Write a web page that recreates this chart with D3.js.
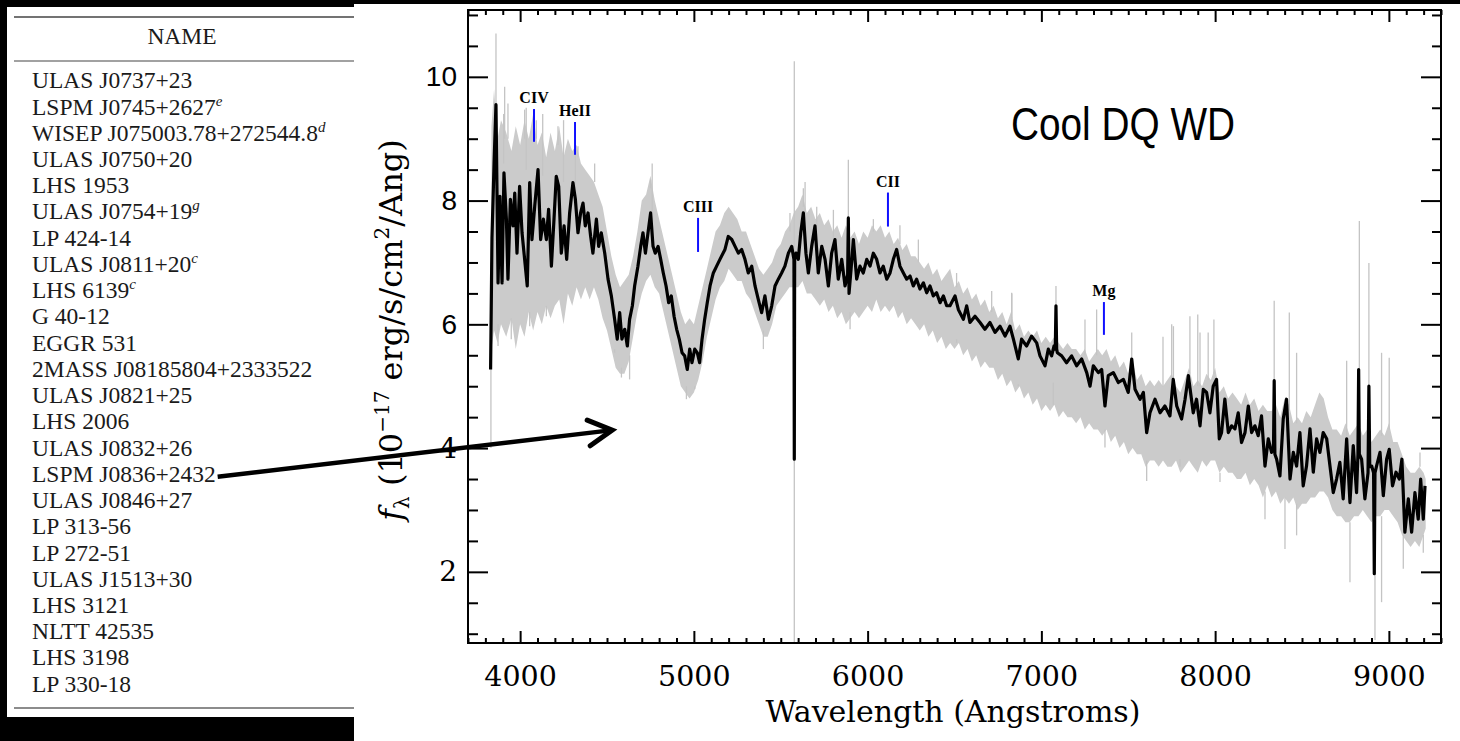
<!DOCTYPE html>
<html>
<head>
<meta charset="utf-8">
<script src="https://cdn.jsdelivr.net/npm/d3@7"></script>
<style>
  body { margin: 0; background: #000; }
</style>
</head>
<body>
<div id="figure"></div>
<script>
// ---- table on the left ----
const tableNames = ["ULAS J0737+23", "LSPM J0745+2627", "WISEP J075003.78+272544.8", "ULAS J0750+20",
  "LHS 1953", "ULAS J0754+19", "LP 424-14", "ULAS J0811+20", "LHS 6139", "G 40-12", "EGGR 531",
  "2MASS J08185804+2333522", "ULAS J0821+25", "LHS 2006", "ULAS J0832+26", "LSPM J0836+2432",
  "ULAS J0846+27", "LP 313-56", "LP 272-51", "ULAS J1513+30", "LHS 3121", "NLTT 42535", "LHS 3198", "LP 330-18"];
const tableNotes = ["", "e", "d", "", "", "g", "", "c", "c", "", "", "", "", "", "", "", "", "", "", "", "", "", "", ""];
const arrowFrom = "LSPM J0836+2432";

// ---- spectrum (wavelength in Angstrom, flux in 1e-17 erg/s/cm2/Ang) ----
const fluxSmooth = [
  [3830, 5.27], [3838, 7.4], [3850, 8.6], [3861, 9.55], [3873, 6.67], [3884, 8.07], [3896, 6.67], [3907, 8.45],
  [3921, 7.7], [3930, 6.73], [3944, 8.02], [3959, 7.59], [3969, 8.12], [3982, 7.15], [3997, 8.23], [4011, 7.48],
  [4026, 7.05], [4041, 6.62], [4055, 8.29], [4068, 7.37], [4084, 7.91], [4103, 8.5], [4118, 7.37], [4134, 7.7],
  [4151, 7.37], [4164, 7.86], [4180, 6.94], [4195, 7.7], [4208, 8.39], [4222, 8.23], [4237, 7.15], [4253, 7.59],
  [4268, 7.05], [4285, 7.8], [4304, 8.29], [4318, 8.02], [4333, 7.48], [4348, 7.8], [4362, 7.96], [4375, 7.59],
  [4391, 7.8], [4406, 7.42], [4419, 7.15], [4439, 7.7], [4452, 7.26], [4467, 7.48], [4487, 7.15], [4506, 6.73],
  [4525, 6.46], [4544, 6.08], [4559, 5.76], [4573, 6.19], [4586, 5.76], [4602, 5.92], [4617, 5.65], [4630, 6.08],
  [4646, 6.3], [4659, 6.62], [4678, 6.94], [4694, 7.26], [4707, 7.48], [4721, 7.15], [4736, 7.48], [4751, 7.8],
  [4765, 7.26], [4778, 7.15], [4794, 7.26], [4809, 7.05], [4824, 6.83], [4840, 6.62], [4855, 6.35], [4870, 6.46],
  [4886, 6.13], [4901, 5.92], [4916, 5.76], [4932, 5.54], [4947, 5.49], [4962, 5.27], [4976, 5.6], [4989, 5.38],
  [5005, 5.6], [5020, 5.54], [5033, 5.38], [5047, 5.76], [5062, 6.08], [5077, 6.35], [5093, 6.62],
  [5112, 6.83], [5131, 6.94], [5150, 7.05], [5179, 7.21], [5198, 7.42], [5218, 7.37], [5237, 7.26], [5256, 7.15],
  [5275, 7.21], [5294, 7.05], [5313, 6.83], [5333, 6.94], [5352, 6.62], [5371, 6.4], [5390, 6.19], [5409, 6.46],
  [5429, 6.08], [5448, 6.3], [5467, 6.62], [5486, 6.73], [5505, 6.83], [5524, 6.94], [5544, 7.15], [5563, 7.26],
  [5576, 7.05], [5578, 3.82], [5580, 7.05], [5588, 7.15], [5601, 7.05], [5615, 7.48], [5630, 7.8], [5645, 7.15],
  [5659, 6.83], [5678, 7.26], [5697, 7.59], [5716, 6.83], [5736, 7.26], [5755, 7.05], [5774, 6.62], [5793, 7.15],
  [5812, 7.37], [5831, 6.73], [5851, 7.05], [5870, 6.62], [5885, 6.8], [5889, 7.72], [5893, 6.5], [5905, 6.9],
  [5918, 7.37], [5937, 6.73], [5956, 6.94], [5975, 6.83], [5995, 7.05], [6014, 6.94], [6033, 7.15], [6052, 7.05],
  [6071, 6.83], [6090, 6.94], [6110, 6.73], [6129, 6.83], [6148, 7.05], [6167, 7.21], [6186, 6.94], [6206, 6.83],
  [6225, 6.73], [6244, 6.78], [6263, 6.62], [6282, 6.73], [6301, 6.57], [6321, 6.67], [6340, 6.51], [6359, 6.62],
  [6378, 6.46], [6397, 6.51], [6417, 6.35], [6436, 6.46], [6455, 6.3],
  [6474, 6.3], [6503, 6.46], [6522, 6.24], [6551, 6.08], [6570, 6.3], [6589, 6.03], [6618, 6.13], [6647, 6.03],
  [6675, 5.92], [6704, 6.03], [6733, 5.87], [6762, 5.97], [6791, 5.81], [6819, 5.97], [6839, 5.76], [6867, 5.44],
  [6886, 5.76], [6915, 5.65], [6944, 5.81], [6973, 5.7], [6992, 5.49], [7021, 5.33], [7040, 5.6], [7059, 5.49],
  [7073, 5.65], [7080, 5.6], [7084, 6.3], [7088, 5.6], [7092, 5.54], [7117, 5.49], [7145, 5.38], [7174, 5.49],
  [7203, 5.33], [7232, 5.44], [7261, 5.22], [7280, 5.0], [7299, 5.33], [7328, 5.22], [7347, 5.27], [7366, 4.68],
  [7385, 5.17], [7414, 5.22], [7443, 5.06], [7472, 5.11], [7500, 4.9], [7520, 5.44], [7539, 4.95], [7568, 4.79],
  [7587, 4.9], [7606, 4.25], [7625, 4.57], [7654, 4.79], [7683, 4.57], [7711, 4.68], [7740, 4.52], [7759, 5.11],
  [7779, 4.68], [7807, 4.47], [7827, 4.79], [7846, 5.17],
  [7874, 4.57], [7893, 4.79], [7913, 4.36], [7932, 4.95], [7951, 4.9], [7970, 4.57], [7989, 5.0], [8008, 5.11],
  [8024, 4.15], [8037, 4.25], [8056, 4.79], [8076, 4.25], [8095, 4.36], [8114, 4.31], [8133, 4.57], [8152, 4.09],
  [8172, 4.25], [8191, 4.68], [8210, 4.25], [8229, 4.36], [8248, 4.2], [8267, 4.52], [8287, 3.71], [8306, 4.15],
  [8325, 3.93], [8336, 4.0], [8340, 5.09], [8344, 3.9], [8354, 3.82], [8373, 3.55], [8392, 4.47], [8411, 4.79],
  [8431, 3.5], [8450, 3.93], [8469, 3.71], [8488, 4.25], [8507, 3.39], [8526, 3.71], [8546, 4.31], [8565, 3.61],
  [8584, 4.15], [8603, 3.93], [8622, 4.25], [8642, 4.15], [8661, 3.71], [8680, 3.28], [8699, 3.5], [8718, 3.77],
  [8737, 3.18], [8757, 4.15], [8776, 3.12], [8795, 4.04], [8814, 3.28], [8822, 3.9], [8826, 5.27], [8830, 3.9],
  [8843, 3.82], [8862, 3.18], [8880, 3.6], [8885, 5.0], [8890, 3.7], [8901, 3.71], [8912, 3.6], [8916, 1.97],
  [8920, 3.6], [8929, 3.71], [8949, 3.93], [8968, 3.23], [8987, 3.82], [9002, 3.98], [9021, 3.39], [9041, 3.61],
  [9060, 3.5], [9075, 3.82], [9092, 2.64], [9112, 3.18], [9131, 2.64], [9150, 3.28], [9169, 2.85], [9183, 3.5],
  [9198, 2.85], [9208, 3.39]
];

// raw spectrum envelope: [wavelength, low, high]
const fluxRawBand = [
  [3835, 5.6, 9.2], [3850, 5.9, 9.8], [3870, 5.7, 9.0], [3890, 6.0, 9.3], [3920, 5.8, 9.1], [3950, 6.1, 8.8],
  [3975, 5.6, 9.2], [4000, 6.0, 8.9], [4025, 5.8, 9.3], [4050, 6.2, 9.0], [4075, 5.9, 9.4], [4100, 6.2, 8.9],
  [4125, 6.0, 9.1], [4150, 6.3, 8.7], [4175, 6.1, 9.1], [4200, 6.3, 8.8], [4225, 6.4, 9.2], [4250, 6.0, 8.7],
  [4275, 6.5, 9.0], [4300, 6.3, 8.8], [4325, 6.6, 8.9], [4350, 6.4, 8.6], [4375, 6.6, 8.5], [4400, 6.4, 8.4],
  [4425, 6.6, 8.3], [4450, 6.4, 8.1], [4475, 6.1, 7.9], [4500, 5.9, 7.5], [4525, 5.6, 7.1], [4550, 5.3, 6.8],
  [4575, 5.2, 6.6], [4600, 5.2, 6.7], [4625, 5.4, 6.8], [4650, 5.8, 7.1], [4675, 6.2, 7.5], [4700, 6.5, 8.0],
  [4725, 6.7, 8.1], [4750, 6.8, 8.4], [4775, 6.6, 8.0], [4800, 6.5, 7.7], [4825, 6.2, 7.4], [4850, 5.9, 7.1],
  [4875, 5.6, 6.8], [4900, 5.3, 6.5], [4925, 5.0, 6.2], [4950, 4.9, 6.0], [4975, 4.8, 6.1], [5000, 4.9, 6.0],
  [5025, 5.1, 6.3], [5050, 5.4, 6.6], [5075, 5.8, 6.9], [5100, 6.1, 7.2], [5125, 6.4, 7.5], [5150, 6.6, 7.6],
  [5175, 6.7, 7.8], [5200, 6.9, 7.9], [5225, 6.8, 7.8], [5250, 6.7, 7.7], [5275, 6.7, 7.5], [5300, 6.5, 7.5],
  [5325, 6.4, 7.3], [5350, 6.2, 7.1], [5375, 6.0, 6.9], [5400, 5.8, 6.8], [5425, 5.8, 6.9], [5450, 6.0, 7.0],
  [5475, 6.3, 7.2], [5500, 6.4, 7.3], [5525, 6.5, 7.5], [5550, 6.6, 7.6], [5575, 6.6, 7.8], [5600, 6.6, 7.9],
  [5625, 6.7, 8.1], [5650, 6.5, 7.8], [5675, 6.5, 7.9], [5700, 6.4, 7.7], [5725, 6.3, 7.8], [5750, 6.4, 7.6],
  [5775, 6.2, 7.7], [5800, 6.3, 7.5], [5825, 6.1, 7.6], [5850, 6.2, 7.4], [5875, 6.0, 7.6], [5900, 6.1, 7.4],
  [5925, 6.2, 7.5], [5950, 6.1, 7.3], [5975, 6.2, 7.5], [6000, 6.3, 7.4], [6025, 6.2, 7.6], [6050, 6.4, 7.5],
  [6075, 6.2, 7.6], [6100, 6.3, 7.4], [6125, 6.2, 7.5], [6150, 6.3, 7.3], [6175, 6.1, 7.4], [6200, 6.2, 7.2],
  [6225, 6.0, 7.3], [6250, 6.1, 7.1], [6275, 6.0, 7.1], [6300, 5.9, 7.0], [6325, 6.0, 6.9], [6350, 5.8, 7.0],
  [6375, 5.9, 6.8], [6400, 5.7, 6.9], [6425, 5.8, 6.7], [6450, 5.6, 6.8], [6475, 5.7, 6.9], [6500, 5.6, 6.6],
  [6525, 5.7, 6.7], [6550, 5.5, 6.5], [6575, 5.6, 6.6], [6600, 5.4, 6.4], [6625, 5.5, 6.5], [6650, 5.3, 6.3],
  [6675, 5.4, 6.4], [6700, 5.3, 6.2], [6725, 5.3, 6.3], [6750, 5.1, 6.1], [6775, 5.2, 6.2], [6800, 5.0, 6.0],
  [6825, 5.1, 6.2], [6850, 4.9, 5.9], [6875, 5.0, 6.0], [6900, 4.8, 5.8], [6925, 4.9, 5.9], [6950, 4.7, 5.8],
  [6975, 4.8, 5.9], [7000, 4.6, 5.7], [7025, 4.7, 5.8], [7050, 4.6, 5.7], [7075, 4.7, 5.8], [7100, 4.5, 5.7],
  [7125, 4.6, 5.6], [7150, 4.5, 5.7], [7175, 4.5, 5.6], [7200, 4.4, 5.6], [7225, 4.5, 5.5], [7250, 4.3, 5.6],
  [7275, 4.4, 5.4], [7300, 4.3, 5.5], [7325, 4.3, 5.6], [7350, 4.2, 5.5], [7375, 4.3, 5.6], [7400, 4.1, 5.4],
  [7425, 4.2, 5.5], [7450, 4.0, 5.3], [7475, 4.1, 5.4], [7500, 3.9, 5.2], [7525, 4.0, 5.4], [7550, 3.9, 5.1],
  [7575, 3.9, 5.2], [7600, 3.7, 5.0], [7625, 3.8, 5.1], [7650, 3.8, 5.0], [7675, 3.7, 5.1], [7700, 3.8, 5.0],
  [7725, 3.7, 5.1], [7750, 3.7, 5.2], [7775, 3.8, 5.0], [7800, 3.6, 4.9], [7825, 3.7, 5.1], [7850, 3.8, 5.3],
  [7875, 3.7, 5.0], [7900, 3.6, 5.1], [7925, 3.8, 5.0], [7950, 3.7, 5.2], [7975, 3.8, 5.1], [8000, 3.8, 5.3],
  [8025, 3.6, 4.9], [8050, 3.7, 5.0], [8075, 3.6, 4.8], [8100, 3.6, 4.9], [8125, 3.5, 4.8], [8150, 3.5, 4.7],
  [8175, 3.6, 4.9], [8200, 3.4, 4.7], [8225, 3.5, 4.8], [8250, 3.4, 4.6], [8275, 3.2, 4.7], [8300, 3.4, 4.6],
  [8325, 3.2, 4.6], [8350, 3.3, 4.7], [8375, 3.1, 4.5], [8400, 3.2, 4.8], [8425, 3.1, 4.7], [8450, 3.2, 4.4],
  [8475, 3.0, 4.5], [8500, 3.1, 4.4], [8525, 3.1, 4.6], [8550, 3.2, 4.5], [8575, 3.2, 4.7], [8600, 3.3, 4.9],
  [8625, 3.3, 4.8], [8650, 3.2, 4.5], [8675, 3.0, 4.3], [8700, 2.9, 4.3], [8725, 2.9, 4.2], [8750, 2.8, 4.4],
  [8775, 2.8, 4.2], [8800, 2.9, 4.3], [8825, 2.9, 4.4], [8850, 3.0, 4.2], [8875, 2.9, 4.3], [8900, 2.8, 4.1],
  [8925, 2.9, 4.2], [8950, 2.9, 4.3], [8975, 3.0, 4.2], [9000, 3.0, 4.4], [9025, 2.9, 4.1], [9050, 2.8, 4.1],
  [9075, 2.6, 3.9], [9100, 2.5, 3.7], [9125, 2.4, 3.6], [9150, 2.5, 3.6], [9175, 2.4, 3.7], [9200, 2.6, 3.6],
  [9212, 2.7, 3.5]
];

// single raw pixels sticking out of the band: [wavelength, band edge, tip]
const fluxRawSpikes = [
  [3832, 7.0, 4.0], [3861, 8.5, 10.7], [3873, 6.0, 5.65], [3905, 8.6, 9.4], [3911, 9.0, 9.84], [3930, 9.0, 9.57],
  [3949, 6.1, 5.76], [4026, 9.0, 9.47], [4035, 8.5, 9.5], [4055, 6.2, 5.97], [4093, 9.0, 9.3], [4130, 8.4, 9.4],
  [4151, 6.3, 6.13], [4218, 8.9, 9.2], [4250, 8.3, 9.3], [4318, 8.2, 9.2], [4333, 8.7, 8.88], [4429, 8.3, 8.6],
  [4544, 5.6, 5.54], [4583, 5.3, 5.14], [4630, 5.5, 5.11], [4751, 8.2, 8.34], [4760, 7.8, 8.6], [4957, 5.0, 4.79],
  [5005, 5.0, 4.95], [5400, 5.9, 5.6], [5553, 7.5, 7.8], [5578, 0.85, 10.25], [5630, 7.9, 8.2], [5640, 7.7, 8.3],
  [5707, 7.6, 7.9], [5803, 7.4, 7.85], [5889, 7.5, 8.66], [5899, 6.2, 5.92], [6033, 7.5, 7.7], [6186, 7.3, 7.6],
  [6292, 7.0, 7.37], [6512, 6.6, 6.83], [6512, 5.7, 5.76], [6714, 6.2, 6.54], [6829, 6.1, 6.51], [6830, 5.8, 6.5],
  [6867, 5.0, 5.03], [7069, 4.7, 5.06], [7084, 5.7, 6.62], [7251, 5.5, 6.08], [7318, 5.5, 6.24], [7366, 4.3, 4.01],
  [7520, 5.3, 5.87], [7606, 3.8, 3.47], [7700, 5.0, 5.8], [7750, 5.1, 6.0], [7760, 5.0, 5.97], [7798, 3.7, 3.82],
  [7855, 5.2, 6.13], [7900, 5.0, 6.16], [7913, 5.0, 5.87], [7960, 5.1, 5.87], [7993, 5.2, 6.08], [8028, 3.6, 3.45],
  [8287, 3.3, 2.85], [8340, 4.7, 6.38], [8402, 3.2, 2.37], [8427, 4.6, 6.19], [8469, 4.4, 5.54], [8469, 3.1, 2.59],
  [8757, 4.2, 5.41], [8776, 2.8, 1.83], [8830, 4.4, 7.67], [8885, 4.3, 6.99], [8920, 2.8, 0.9], [8958, 4.2, 5.54],
  [8958, 2.9, 1.51], [9002, 4.3, 5.46], [9083, 2.6, 2.05], [9179, 3.7, 3.93], [9198, 2.6, 2.31]
];

// line identifications
const lineNames = ["CIV", "HeII", "CIII", "CII", "Mg"];
const lineWaves = [4080, 4316, 5024, 6117, 7360];
const lineTop = [9.48, 9.27, 7.72, 8.13, 6.36];
const lineBottom = [8.95, 8.74, 7.17, 7.58, 5.83];

const xTicks = [4000, 5000, 6000, 7000, 8000, 9000];
const yTicks = [2, 4, 6, 8, 10];
const yTicksSerif = [2, 4];   // these two labels are set in the plot's own serif font
const arrowTip = [4530, 4.29];

// ---- page ----
const W = 1460, H = 741;
const svg = d3.select("#figure")
  .append("svg")
    .attr("width", W)
    .attr("height", H)
    .style("display", "block");

svg.append("rect").attr("width", W).attr("height", H).attr("fill", "#000");
// left paper and right paper
svg.append("rect").attr("x", 7).attr("y", 7).attr("width", 347).attr("height", 710).attr("fill", "#fff");
svg.append("rect").attr("x", 354).attr("y", 4).attr("width", W - 354).attr("height", H - 4).attr("fill", "#fff");

// ---- table ----
const table = svg.append("g")
  .style("font-family", "'Liberation Serif', 'Times New Roman', serif")
  .style("font-size", "23.5px")
  .attr("fill", "#1a1a1a");

table.append("line").attr("x1", 14).attr("x2", 354).attr("y1", 17).attr("y2", 17)
  .attr("stroke", "#444").attr("stroke-width", 1.6);
table.append("line").attr("x1", 14).attr("x2", 354).attr("y1", 61).attr("y2", 61)
  .attr("stroke", "#444").attr("stroke-width", 1.2);
table.append("line").attr("x1", 14).attr("x2", 354).attr("y1", 708).attr("y2", 708)
  .attr("stroke", "#666").attr("stroke-width", 1.6);

table.append("text")
  .attr("x", 182)
  .attr("y", 44)
  .attr("text-anchor", "middle")
  .text("NAME");

const rowY = d3.scalePoint()
  .domain(tableNames)
  .range([88.3, 691.7]);

const rows = table.selectAll("text.row")
  .data(tableNames)
  .join("text")
    .attr("class", "row")
    .attr("x", 32)
    .attr("y", d => rowY(d));
rows.append("tspan").text(d => d);
rows.append("tspan")
  .attr("dy", -9)
  .style("font-size", "15px")
  .style("font-style", "italic")
  .text((d, i) => tableNotes[i]);

// ---- plot ----
const plot = {left: 468, top: 10, right: 1441, bottom: 643};

const x = d3.scaleLinear()
  .domain([3700, 9300])
  .range([plot.left, plot.right]);
const y = d3.scaleLinear()
  .domain([0.85, 11.08])
  .range([plot.bottom, plot.top]);

const chart = svg.append("g");

// raw spectrum band
chart.append("path")
  .datum(fluxRawBand)
  .attr("fill", "#cbcbcb")
  .attr("d", d3.area()
    .x(d => x(d[0]))
    .y0(d => y(d[1]))
    .y1(d => y(d[2])));

chart.selectAll("line.spike")
  .data(fluxRawSpikes)
  .join("line")
    .attr("class", "spike")
    .attr("x1", d => x(d[0]))
    .attr("x2", d => x(d[0]))
    .attr("y1", d => y(d[1]))
    .attr("y2", d => y(d[2]))
    .attr("stroke", "#c4c4c4")
    .attr("stroke-width", 1.3);

// smoothed spectrum
chart.append("path")
  .datum(fluxSmooth)
  .attr("fill", "none")
  .attr("stroke", "#000")
  .attr("stroke-width", 3.2)
  .attr("stroke-linejoin", "round")
  .attr("d", d3.line()
    .x(d => x(d[0]))
    .y(d => y(d[1])));

// line identifications
chart.selectAll("line.ident")
  .data(lineNames)
  .join("line")
    .attr("class", "ident")
    .attr("x1", (d, i) => x(lineWaves[i]))
    .attr("x2", (d, i) => x(lineWaves[i]))
    .attr("y1", (d, i) => y(lineTop[i]))
    .attr("y2", (d, i) => y(lineBottom[i]))
    .attr("stroke", "#1010ff")
    .attr("stroke-width", 2);
chart.selectAll("text.ident")
  .data(lineNames)
  .join("text")
    .attr("class", "ident")
    .attr("x", (d, i) => x(lineWaves[i]))
    .attr("y", (d, i) => y(lineTop[i]) - 6)
    .attr("text-anchor", "middle")
    .style("font-family", "'Liberation Serif', serif")
    .style("font-weight", "bold")
    .style("font-size", "16px")
    .text(d => d);

// frame
chart.append("rect")
  .attr("x", plot.left)
  .attr("y", plot.top)
  .attr("width", plot.right - plot.left)
  .attr("height", plot.bottom - plot.top)
  .attr("fill", "none")
  .attr("stroke", "#000")
  .attr("stroke-width", 2);

// axes: major + minor ticks on all four sides, pointing inward
const xMinor = d3.range(3700, 9301, 100).filter(v => v % 1000 !== 0);
const yMinor = d3.range(1, 11.01, 0.5).filter(v => v % 2 !== 0);

function styleAxis(g) {
  g.select(".domain").remove();
  g.selectAll(".tick line").attr("stroke", "#000").attr("stroke-width", 2);
}

chart.append("g")
  .attr("transform", `translate(0,${plot.bottom})`)
  .call(d3.axisBottom(x).tickValues(xTicks).tickSize(-12).tickPadding(23).tickFormat(d3.format("d")))
  .call(styleAxis)
  .call(g => g.selectAll("text")
    .attr("fill", "#000")
    .style("font-family", "'DejaVu Serif', serif")
    .style("font-size", "28.5px"));
chart.append("g")
  .attr("transform", `translate(0,${plot.bottom})`)
  .call(d3.axisBottom(x).tickValues(xMinor).tickSize(-5).tickFormat(""))
  .call(styleAxis);
chart.append("g")
  .attr("transform", `translate(0,${plot.top})`)
  .call(d3.axisTop(x).tickValues(xTicks).tickSize(-12).tickFormat(""))
  .call(styleAxis);
chart.append("g")
  .attr("transform", `translate(0,${plot.top})`)
  .call(d3.axisTop(x).tickValues(xMinor).tickSize(-5).tickFormat(""))
  .call(styleAxis);

chart.append("g")
  .attr("transform", `translate(${plot.left},0)`)
  .call(d3.axisLeft(y).tickValues(yTicks).tickSize(-20).tickPadding(11))
  .call(styleAxis)
  .call(g => g.selectAll("text")
    .attr("fill", "#000")
    .style("font-family", d => yTicksSerif.includes(d) ? "'DejaVu Serif', serif" : "'Liberation Sans', Arial, sans-serif")
    .style("font-size", "28px"));
chart.append("g")
  .attr("transform", `translate(${plot.left},0)`)
  .call(d3.axisLeft(y).tickValues(yMinor).tickSize(-10).tickFormat(""))
  .call(styleAxis);
chart.append("g")
  .attr("transform", `translate(${plot.right},0)`)
  .call(d3.axisRight(y).tickValues(yTicks).tickSize(-20).tickFormat(""))
  .call(styleAxis);
chart.append("g")
  .attr("transform", `translate(${plot.right},0)`)
  .call(d3.axisRight(y).tickValues(yMinor).tickSize(-9).tickFormat(""))
  .call(styleAxis);

// Add X-axis label
svg.append("text")
  .attr("x", 953)
  .attr("y", 722)
  .attr("text-anchor", "middle")
  .style("font-family", "'DejaVu Serif', serif")
  .style("font-size", "30px")
  .text("Wavelength (Angstroms)");

// Add Y-axis label
const yLabel = svg.append("text")
  .attr("transform", "translate(402,330) rotate(-90)")
  .attr("text-anchor", "middle")
  .style("font-family", "'DejaVu Serif', serif")
  .style("font-size", "32px");
yLabel.append("tspan").style("font-style", "italic").text("f");
yLabel.append("tspan").attr("dy", 7).style("font-size", "20px").text("λ");
yLabel.append("tspan").attr("dy", -7).text(" (10");
yLabel.append("tspan").attr("dy", -13).style("font-size", "20px").text("−17");
yLabel.append("tspan").attr("dy", 13).text(" erg/s/cm");
yLabel.append("tspan").attr("dy", -13).style("font-size", "20px").text("2");
yLabel.append("tspan").attr("dy", 13).text("/Ang)");

// title inside the plot
svg.append("text")
  .attr("x", 1011)
  .attr("y", 140)
  .attr("textLength", 224)
  .attr("lengthAdjust", "spacingAndGlyphs")
  .style("font-family", "'Liberation Sans', Arial, sans-serif")
  .style("font-size", "46px")
  .text("Cool DQ WD");

// arrow from the table row into the plot
const fromRow = rows.filter(d => d === arrowFrom).node();
const x0 = 32 + fromRow.getComputedTextLength() + 2,
      y0 = rowY(arrowFrom) - 5,
      x1 = x(arrowTip[0]),
      y1 = y(arrowTip[1]);
const ang = Math.atan2(y1 - y0, x1 - x0),
      headLen = 27, headAng = 0.5;
svg.append("line")
  .attr("x1", x0).attr("y1", y0)
  .attr("x2", x1 - 2 * Math.cos(ang)).attr("y2", y1 - 2 * Math.sin(ang))
  .attr("stroke", "#000")
  .attr("stroke-width", 4.5);
svg.append("path")
  .attr("d", d3.line()([
    [x1 - headLen * Math.cos(ang - headAng), y1 - headLen * Math.sin(ang - headAng)],
    [x1, y1],
    [x1 - headLen * Math.cos(ang + headAng), y1 - headLen * Math.sin(ang + headAng)]
  ]))
  .attr("fill", "none")
  .attr("stroke", "#000")
  .attr("stroke-width", 5)
  .attr("stroke-linecap", "round");
</script>
</body>
</html>
